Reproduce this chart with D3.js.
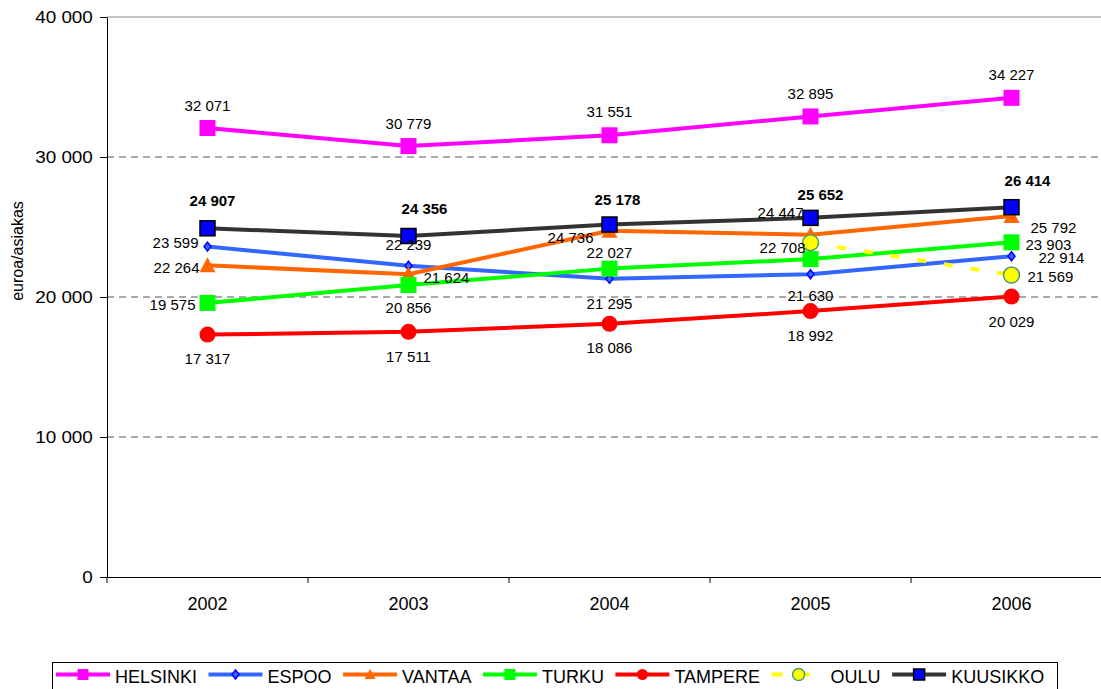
<!DOCTYPE html>
<html>
<head>
<meta charset="utf-8">
<script src="https://cdn.jsdelivr.net/npm/d3@7/dist/d3.min.js"></script>
<style>
  html, body { margin: 0; padding: 0; background: #fff; }
  svg { display: block; font-family: "Liberation Sans", Arial, sans-serif; }
</style>
</head>
<body>
<svg id="chart" width="1101" height="689"></svg>
<script>
// ---------- DATA ----------
const years = ["2002", "2003", "2004", "2005", "2006"];
const yTicks = [0, 10000, 20000, 30000, 40000];

const helsinki = [32071, 30779, 31551, 32895, 34227];
const espoo    = [23599, 22239, 21295, 21630, 22914];
const vantaa   = [22264, 21624, 24736, 24447, 25792];
const turku    = [19575, 20856, 22027, 22708, 23903];
const tampere  = [17317, 17511, 18086, 18992, 20029];
const oulu     = [null, null, null, 23880, 21569];
const kuusikko = [24907, 24356, 25178, 25652, 26414];

const seriesNames = ["HELSINKI", "ESPOO", "VANTAA", "TURKU", "TAMPERE", "OULU", "KUUSIKKO"];
const seriesValues = [helsinki, espoo, vantaa, turku, tampere, oulu, kuusikko];
const showLabel = [
  [1,1,1,1,1],[1,1,1,1,1],[1,1,1,1,1],[1,1,1,1,1],[1,1,1,1,1],[0,0,0,0,1],[1,1,1,1,1]
];

// ---------- STYLE ----------
const styles = [
  { color: "#FF00FF", marker: "square",   size: 16, fill: "#FF00FF", stroke: "none", width: 4 },
  { color: "#3366FF", marker: "diamond",  size: 9,  fill: "#3366FF", stroke: "#0000FF", width: 4 },
  { color: "#FF6600", marker: "triangle", size: 16, fill: "#FF6600", stroke: "none", width: 4 },
  { color: "#00FF00", marker: "square",   size: 16, fill: "#00FF00", stroke: "none", width: 4 },
  { color: "#FF0000", marker: "circle",   size: 16, fill: "#FF0000", stroke: "none", width: 4 },
  { color: "#FFFF00", marker: "circle",   size: 16, fill: "#FFFF00", stroke: "#4E9A6A", width: 4, dash: "9,18" },
  { color: "#333333", marker: "square",   size: 15, fill: "#0000FF", stroke: "#000000", width: 4 }
];
// label placement: [anchor, dx, dy]
const labelPlace = [
  [["middle",0,-23],["middle",0,-23],["middle",0,-24],["middle",0,-23],["middle",0,-23]],
  [["end",-9,-4],["middle",0,-21],["middle",0,25],["middle",0,21],["start",27,1]],
  [["end",-8,2],["start",15,3],["end",-16,7],["end",-7,-22],["start",19,12]],
  [["end",-12,2],["middle",0,22],["middle",0,-16],["end",-5,-12],["start",14,2]],
  [["middle",0,24],["middle",0,25],["middle",0,24],["middle",0,24],["middle",0,25]],
  [null,null,null,null,["start",16,1]],
  [["middle",5,-28],["middle",16,-28],["middle",8,-25],["middle",10,-23],["middle",16,-27]]
];

const W = 1101, H = 689;
const plot = { left: 107, right: 1112, top: 17, bottom: 577 };

const svg = d3.select("#chart");
const x = d3.scaleBand().domain(years).range([plot.left, plot.right]);
const y = d3.scaleLinear().domain([0, 40000]).range([plot.bottom, plot.top]);
const cx = d => x(d) + x.bandwidth() / 2;

const loc = d3.formatLocale({ decimal: ",", thousands: " ", grouping: [3], currency: ["", ""] });
const fmt = loc.format(",d");

// gridlines
svg.append("g").selectAll("line")
  .data(yTicks.filter(t => t > 0 && t < 40000))
  .join("line")
  .attr("x1", plot.left).attr("x2", W)
  .attr("y1", d => y(d)).attr("y2", d => y(d))
  .attr("stroke", "#555").attr("stroke-width", 1).attr("stroke-dasharray", "7,5");
svg.append("line")
  .attr("x1", plot.left).attr("x2", W)
  .attr("y1", y(40000)).attr("y2", y(40000))
  .attr("stroke", "#8a8a8a").attr("stroke-width", 1);

// y axis
const yAxis = svg.append("g")
  .attr("transform", `translate(${plot.left},0)`)
  .call(d3.axisLeft(y).tickValues(yTicks).tickFormat(fmt).tickSize(7).tickSizeOuter(0));
yAxis.select(".domain").attr("stroke", "#000");
yAxis.selectAll(".tick line").attr("stroke", "#000");
yAxis.selectAll(".tick text")
  .attr("x", -12).attr("dy", "0.35em")
  .attr("font-family", "Liberation Sans, Arial, sans-serif")
  .attr("font-size", 16)
  .attr("transform", "scale(1.18,1)")
  .attr("fill", "#000");

// x axis
const xAxis = svg.append("g")
  .attr("transform", `translate(0,${plot.bottom})`)
  .call(d3.axisBottom(x).tickSize(0).tickSizeOuter(0));
xAxis.select(".domain").attr("stroke", "#000");
xAxis.selectAll(".tick text")
  .attr("y", 27).attr("dy", "0")
  .attr("font-family", "Liberation Sans, Arial, sans-serif")
  .attr("font-size", 18).attr("fill", "#000")
  .attr("dominant-baseline", "central");
svg.append("g").selectAll("line")
  .data(years.map(d => x(d)).concat([plot.right]))
  .join("line")
  .attr("x1", d => d).attr("x2", d => d)
  .attr("y1", plot.bottom).attr("y2", plot.bottom + 6)
  .attr("stroke", "#000");

// y title
svg.append("text")
  .attr("transform", `translate(17,251) rotate(-90)`)
  .attr("text-anchor", "middle").attr("dominant-baseline", "central")
  .attr("font-size", 16).attr("fill", "#000")
  .text("euroa/asiakas");

// marker drawer
function drawMarker(g, st, px, py) {
  const s = st.size;
  let m;
  if (st.marker === "square") {
    m = g.append("rect").attr("x", px - s / 2).attr("y", py - s / 2).attr("width", s).attr("height", s);
  } else if (st.marker === "circle") {
    m = g.append("circle").attr("cx", px).attr("cy", py).attr("r", s / 2);
  } else if (st.marker === "triangle") {
    m = g.append("path").attr("d", `M${px},${py - s / 2}L${px + s / 2},${py + s / 2 - 1}L${px - s / 2},${py + s / 2 - 1}Z`);
  } else if (st.marker === "diamond") {
    m = g.append("path").attr("d", `M${px},${py - s / 2}L${px + s / 2 - 1},${py}L${px},${py + s / 2}L${px - s / 2 + 1},${py}Z`);
  }
  m.attr("fill", st.fill)
   .attr("stroke", st.stroke === "none" ? "none" : st.stroke)
   .attr("stroke-width", st.stroke === "none" ? 0 : 1.5);
}

const line = d3.line()
  .defined(d => d.v !== null)
  .x(d => cx(d.year)).y(d => y(d.v))
  .curve(d3.curveLinear);

// series
seriesValues.forEach((vals, i) => {
  const st = styles[i];
  const g = svg.append("g");
  const pts = years.map((yr, j) => ({ year: yr, v: vals[j] }));
  g.append("path").datum(pts)
    .attr("d", line)
    .attr("fill", "none")
    .attr("stroke", st.color)
    .attr("stroke-width", st.width)
    .attr("stroke-dasharray", st.dash || null)
    .attr("stroke-linejoin", "round");
  pts.forEach(p => { if (p.v !== null) drawMarker(g, st, cx(p.year), y(p.v)); });
});

// labels (drawn on top)
seriesValues.forEach((vals, i) => {
  years.forEach((yr, j) => {
    if (vals[j] === null || !showLabel[i][j]) return;
    const lp = labelPlace[i][j];
    svg.append("text")
      .attr("x", cx(yr) + lp[1]).attr("y", y(vals[j]) + lp[2])
      .attr("text-anchor", lp[0]).attr("dominant-baseline", "central")
      .attr("font-size", 15)
      .attr("font-weight", seriesNames[i] === "KUUSIKKO" ? "bold" : "normal")
      .attr("fill", "#000")
      .text(fmt(vals[j]));
  });
});

// legend
const lg = svg.append("g");
lg.append("rect")
  .attr("x", 52.5).attr("y", 662.5).attr("width", 1005).attr("height", 40)
  .attr("fill", "#fff").attr("stroke", "#000").attr("stroke-width", 1);
let lx = 56;
const ly = 674.5;
seriesNames.forEach((name, i) => {
  const st = styles[i];
  lg.append("line")
    .attr("x1", lx).attr("x2", lx + 54).attr("y1", ly).attr("y2", ly)
    .attr("stroke", st.color).attr("stroke-width", st.width)
    .attr("stroke-dasharray", st.dash ? "11,16" : null);
  const mst = Object.assign({}, st, { size: st.marker === "diamond" ? 9 : (st.marker === "circle" && name === "OULU" ? 12 : 11) });
  drawMarker(lg, mst, lx + 27, ly);
  const t = lg.append("text")
    .attr("x", lx + 59).attr("y", ly + 2)
    .attr("dominant-baseline", "central")
    .attr("font-size", 18).attr("fill", "#000")
    .text(name);
  lx = lx + 59 + t.node().getComputedTextLength() + 11.5;
});
</script>
</body>
</html>
